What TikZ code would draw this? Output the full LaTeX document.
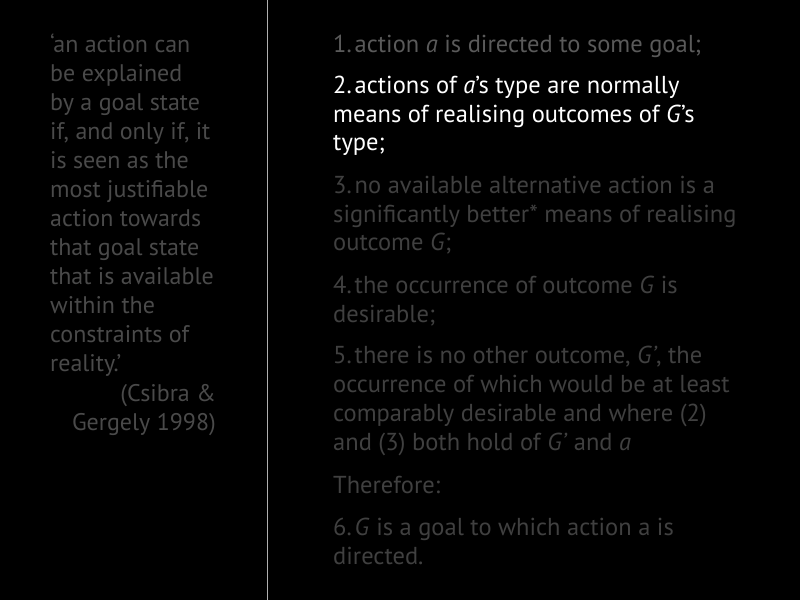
\documentclass[tikz,border=0pt]{standalone}
\usepackage{fontspec}
\setmainfont{PT Sans}
\definecolor{dimA}{HTML}{4A4A4A}
\definecolor{dimB}{HTML}{5A5A5A}
\definecolor{dimC}{HTML}{404040}
\definecolor{rule}{HTML}{B0B0B0}
\begin{document}
\begin{tikzpicture}[x=1pt,y=-1pt,
  ltxt/.style={anchor=base west,inner sep=0pt,font=\fontsize{24}{29}\selectfont},
  txt/.style={anchor=base west,inner sep=0pt,font=\fontsize{24.5}{29}\selectfont},
  cit/.style={anchor=base east,inner sep=0pt,font=\fontsize{24}{29}\selectfont,text=dimA},
  quote/.style={ltxt,text=dimA},
  one/.style={txt,text=dimB},
  two/.style={txt,text=white},
  rest/.style={txt,text=dimC}]
\fill[black] (0,0) rectangle (800,600);
\useasboundingbox (0,0) rectangle (800,600);
\coordinate (top) at (267.5,0);
\coordinate (bot) at (267.5,600);
\draw[rule,line width=0.6pt] (top) -- (bot);
% left quote
\node[quote] (q1) at (50,52) {‘an action can};
\node[quote] (q2) at (50,81) {be explained};
\node[quote] (q3) at (50,110) {by a goal state};
\node[quote] (q4) at (50,139) {if, and only if, it};
\node[quote] (q5) at (50,168) {is seen as the};
\node[quote] (q6) at (50,197) {most justifiable};
\node[quote] (q7) at (50,226) {action towards};
\node[quote] (q8) at (50,255) {that goal state};
\node[quote] (q9) at (50,284) {that is available};
\node[quote] (q10) at (50,313) {within the};
\node[quote] (q11) at (50,342) {constraints of};
\node[quote] (q12) at (50,371) {reality.’};
\node[cit] (c1) at (216,401) {(Csibra \&};
\node[cit] (c2) at (216,430) {Gergely 1998)};
% right list
\node[one] (l1) at (333,52) {1.\hspace{0.12em}action \textit{a} is directed to some goal;};
\node[two] (l2a) at (333,93) {2.\hspace{0.12em}actions of \textit{a}’s type are normally};
\node[two] (l2b) at (333,122) {means of realising outcomes of \textit{G}’s};
\node[two] (l2c) at (333,150) {type;};
\node[rest] (l3a) at (333,193) {3.\hspace{0.12em}no available alternative action is a};
\node[rest] (l3b) at (333,222) {significantly better* means of realising};
\node[rest] (l3c) at (333,250) {outcome \textit{G};};
\node[rest] (l4a) at (333,293) {4.\hspace{0.12em}the occurrence of outcome \textit{G} is};
\node[rest] (l4b) at (333,322) {desirable;};
\node[rest] (l5a) at (333,363) {5.\hspace{0.12em}there is no other outcome, \textit{G’}, the};
\node[rest] (l5b) at (333,392) {occurrence of which would be at least};
\node[rest] (l5c) at (333,421.5) {comparably desirable and where (2)};
\node[rest] (l5d) at (333,450.5) {and (3) both hold of \textit{G’} and \textit{a}};
\node[rest] (th) at (333,493) {Therefore:};
\node[rest] (l6a) at (333,535) {6.\hspace{0.12em}\textit{G} is a goal to which action a is};
\node[rest] (l6b) at (333,564) {directed.};
\end{tikzpicture}
\end{document}
